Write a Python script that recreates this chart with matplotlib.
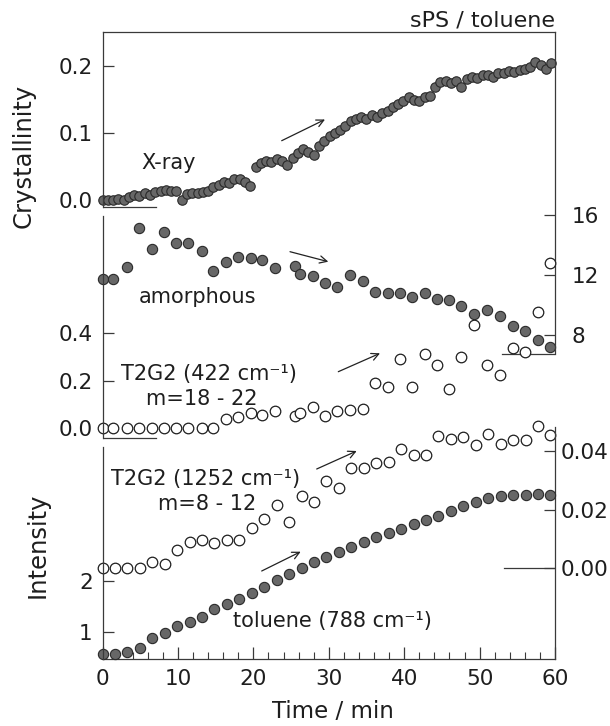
import matplotlib
matplotlib.use("Agg")
import matplotlib.pyplot as plt
from matplotlib.ticker import MultipleLocator, FixedLocator, FixedFormatter

plt.rcParams['font.family'] = ['DejaVu Sans']

# ---------------- data ----------------
xray_time = [0.0, 0.7, 1.4, 2.1, 2.8, 3.5, 4.2, 4.9, 5.6, 6.3, 7.0, 7.7, 8.4, 9.1, 9.8,
             10.5, 11.2, 11.9, 12.6, 13.3, 14.0, 14.7, 15.4, 16.1, 16.8, 17.5, 18.2, 18.9,
             19.6, 20.3, 21.0, 21.7, 22.4, 23.1, 23.8, 24.5, 25.2, 25.9, 26.6, 27.3, 28.0,
             28.7, 29.4, 30.1, 30.8, 31.5, 32.2, 32.9, 33.6, 34.3, 35.0, 35.7, 36.4, 37.1,
             37.8, 38.5, 39.2, 39.9, 40.6, 41.3, 42.0, 42.7, 43.4, 44.1, 44.8, 45.5, 46.2,
             46.9, 47.6, 48.3, 49.0, 49.7, 50.4, 51.1, 51.8, 52.5, 53.2, 53.9, 54.6, 55.3,
             56.0, 56.7, 57.4, 58.1, 58.8, 59.5]
xray_cryst = [0.000, 0.000, -0.001, 0.001, 0.000, 0.004, 0.006, 0.005, 0.009, 0.007, 0.011,
              0.012, 0.014, 0.013, 0.012, -0.001, 0.008, 0.010, 0.009, 0.011, 0.012, 0.018,
              0.022, 0.026, 0.024, 0.030, 0.031, 0.026, 0.020, 0.048, 0.054, 0.057, 0.056,
              0.060, 0.058, 0.051, 0.062, 0.070, 0.075, 0.071, 0.066, 0.080, 0.088, 0.095,
              0.100, 0.104, 0.110, 0.117, 0.120, 0.123, 0.121, 0.126, 0.123, 0.130, 0.133,
              0.138, 0.143, 0.147, 0.153, 0.149, 0.147, 0.153, 0.155, 0.168, 0.176, 0.178,
              0.174, 0.177, 0.168, 0.180, 0.183, 0.182, 0.186, 0.187, 0.184, 0.189, 0.190,
              0.192, 0.191, 0.194, 0.196, 0.199, 0.206, 0.201, 0.196, 0.204]

time_a = [0.0, 1.4, 3.2, 4.9, 6.5, 8.2, 9.8, 11.4, 13.2, 14.7, 16.4, 18.0, 19.7, 21.2,
          22.9, 25.5, 26.2, 27.9, 29.5, 31.1, 32.8, 34.5, 36.1, 37.8, 39.5, 41.0, 42.8,
          44.3, 45.9, 47.6, 49.2, 51.0, 52.7, 54.4, 56.0, 57.7, 59.4]
amorphous = [11.73, 11.73, 12.56, 15.16, 13.73, 14.84, 14.11, 14.11, 13.60, 12.27, 12.84,
             13.22, 13.16, 13.00, 12.44, 12.60, 12.04, 11.93, 11.44, 11.22, 12.00, 11.60,
             10.84, 10.78, 10.78, 10.56, 10.78, 10.40, 10.33, 9.96, 9.38, 9.67, 9.27, 8.60,
             8.29, 7.67, 7.22]
t2g2_422 = [0.0, 0.0, 0.0, 0.0, 0.0, 0.0, 0.0, 0.0, 0.0, 0.0, 0.038, 0.046, 0.063, 0.056,
            0.074, 0.052, 0.063, 0.091, 0.052, 0.074, 0.077, 0.081, 0.192, 0.173, 0.290,
            0.173, 0.313, 0.267, 0.164, 0.300, 0.436, 0.267, 0.224, 0.336, 0.319, 0.490,
            0.693]

time_b = [0.0, 1.65, 3.3, 4.95, 6.6, 8.25, 9.9, 11.55, 13.2, 14.85, 16.5, 18.15, 19.8,
          21.45, 23.1, 24.75, 26.4, 28.05, 29.7, 31.35, 33.0, 34.65, 36.3, 37.95, 39.6,
          41.25, 42.9, 44.55, 46.2, 47.85, 49.5, 51.15, 52.8, 54.45, 56.1, 57.75, 59.4]
t2g2_1252 = [0.000, 0.000, 0.000, 0.000, 0.0019, 0.0013, 0.0062, 0.0090, 0.0096, 0.0084,
             0.0096, 0.0096, 0.0136, 0.0168, 0.0215, 0.0158, 0.0247, 0.0227, 0.0297, 0.0275,
             0.0341, 0.0341, 0.0358, 0.0361, 0.0407, 0.0386, 0.0386, 0.0452, 0.0441, 0.0449,
             0.0420, 0.0459, 0.0423, 0.0438, 0.0436, 0.0487, 0.0453]
toluene = [0.571, 0.571, 0.623, 0.701, 0.883, 0.994, 1.123, 1.208, 1.305, 1.448, 1.552,
           1.643, 1.773, 1.890, 2.019, 2.136, 2.247, 2.377, 2.461, 2.571, 2.669, 2.766,
           2.864, 2.929, 3.006, 3.110, 3.188, 3.266, 3.370, 3.461, 3.545, 3.610, 3.656,
           3.675, 3.675, 3.695, 3.675]

cryst_ticks = [0.0, 0.1, 0.2]
cryst_labels = ["0.0", "0.1", "0.2"]
amor_ticks = [8, 12, 16]
amor_labels = ["8", "12", "16"]
t422_ticks = [0.0, 0.2, 0.4]
t422_labels = ["0.0", "0.2", "0.4"]
t1252_ticks = [0.00, 0.02, 0.04]
t1252_labels = ["0.00", "0.02", "0.04"]
tol_ticks = [1, 2]
tol_labels = ["1", "2"]
x_ticks = [0, 10, 20, 30, 40, 50, 60]

# ---------------- layout helpers (pixels from top-left) ----------------
W, H = 610, 726
L, R, T, B = 102.5, 555.0, 32.0, 659.0
FRAME = '#3a3a3a'
TXT = '#1e1e1e'


def fx(X):
    return X / W


def fy(Y):
    return 1 - Y / H


rect = [fx(L), fy(B), (R - L) / W, (B - T) / H]

fig = plt.figure(figsize=(W / 100, H / 100), dpi=100)
fig.patch.set_facecolor('white')

# main axes: top/bottom frame and time axis
ax = fig.add_axes(rect)
ax.set_xlim(0, 60)
ax.set_ylim(0, 1)
for s in ['left', 'right']:
    ax.spines[s].set_visible(False)
for s in ['top', 'bottom']:
    ax.spines[s].set_color(FRAME)
    ax.spines[s].set_linewidth(0.9)
ax.set_yticks([])
ax.xaxis.set_major_locator(FixedLocator(x_ticks))
ax.xaxis.set_minor_locator(MultipleLocator(2))
ax.tick_params(axis='x', which='major', direction='in', length=9, width=0.9,
               color=FRAME, labelsize=15.5, pad=7, labelcolor=TXT, top=False)
ax.tick_params(axis='x', which='minor', direction='in', length=5, width=0.8,
               color=FRAME, top=False)


def overlay(side, ref_val, ref_px, k, span, ticks, labels, pad):
    a = fig.add_axes(rect)
    a.set_xlim(0, 60)
    lo = ref_val - (B - ref_px) / k
    hi = ref_val + (ref_px - T) / k
    a.set_ylim(lo, hi)
    a.patch.set_visible(False)
    for s in a.spines.values():
        s.set_visible(False)
    sp = a.spines[side]
    sp.set_visible(True)
    sp.set_color(FRAME)
    sp.set_linewidth(0.9)
    sp.set_bounds(ref_val + (ref_px - span[1]) / k, ref_val + (ref_px - span[0]) / k)
    a.xaxis.set_visible(False)
    a.yaxis.set_ticks_position(side)
    a.yaxis.set_major_locator(FixedLocator(ticks))
    a.yaxis.set_major_formatter(FixedFormatter(labels))
    a.tick_params(axis='y', direction='in', length=8, width=0.9, color=FRAME,
                  labelsize=15.5, pad=pad, labelcolor=TXT)
    a.val = lambda px: ref_val + (ref_px - px) / k
    return a


filled = dict(marker='o', ls='none', mfc='#676767', mec='#2a2a2a', mew=0.8, clip_on=False)
hollow = dict(marker='o', ls='none', mfc='white', mec='#1e1e1e', mew=0.9, clip_on=False)

# crystallinity (left, top)
a_cr = overlay('left', 0.0, 199.5, 667.0, (T, 207), cryst_ticks, cryst_labels, 7)
a_cr.plot(xray_time, xray_cryst, ms=6.8, **filled)
a_cr.axhline(a_cr.val(207), xmin=0, xmax=7.1 / 60, color=FRAME, lw=0.9)

# amorphous (right)
a_am = overlay('right', 16.0, 215.0, 15.0, (T, 354), amor_ticks, amor_labels, 12)
a_am.plot(time_a, amorphous, ms=7.4, **filled)
a_am.axhline(a_am.val(354), xmin=53.0 / 60, xmax=1, color=FRAME, lw=0.9)

# T2G2 422 (left, middle)
a_422 = overlay('left', 0.0, 428.3, 238.0, (216, 437.5), t422_ticks, t422_labels, 7)
a_422.plot(time_a, t2g2_422, ms=7.6, **hollow)
a_422.axhline(a_422.val(437.5), xmin=0, xmax=7.1 / 60, color=FRAME, lw=0.9)

# T2G2 1252 (right, lower)
a_1252 = overlay('right', 0.0, 568.0, 2925.0, (427, B), t1252_ticks, t1252_labels, 4)
a_1252.plot(time_b, t2g2_1252, ms=7.6, **hollow)
a_1252.axhline(0.0, xmin=53.2 / 60, xmax=1, color=FRAME, lw=0.9)

# toluene (left, bottom)
a_tol = overlay('left', 1.0, 632.3, 51.3, (447, B), tol_ticks, tol_labels, 7)
a_tol.plot(time_b, toluene, ms=7.4, **filled)

# ---------------- texts ----------------
fig.text(fx(R), fy(20), 'sPS / toluene', ha='right', va='center', fontsize=16, color=TXT)
fig.text(fx(24), fy(156), 'Crystallinity', rotation=90, ha='center', va='center',
         fontsize=17.5, color=TXT)
fig.text(fx(38), fy(545), 'Intensity', rotation=90, ha='center', va='center',
         fontsize=17.5, color=TXT)
fig.text(fx(333), fy(712), 'Time / min', ha='center', va='center', fontsize=16.5, color=TXT)

ann = dict(ha='center', va='baseline', fontsize=15, color=TXT)
fig.text(fx(169), fy(169), 'X-ray', **ann)
fig.text(fx(197.5), fy(303), 'amorphous', **ann)
fig.text(fx(209), fy(380), 'T2G2 (422 cm\u207b\u00b9)', **ann)
fig.text(fx(202), fy(405), 'm=18 - 22', **ann)
fig.text(fx(206), fy(485), 'T2G2 (1252 cm\u207b\u00b9)', **ann)
fig.text(fx(207.5), fy(510), 'm=8 - 12', **ann)
fig.text(fx(332.5), fy(626.7), 'toluene (788 cm\u207b\u00b9)', **ann)

# arrows
arrows = [((281.7, 140.7), (325.0, 119.5)),
          ((290.0, 251.7), (328.3, 261.7)),
          ((338.3, 371.7), (380.0, 353.3)),
          ((316.7, 469.0), (356.7, 451.0)),
          ((261.7, 571.0), (300.7, 551.7))]
for (x0, y0), (x1, y1) in arrows:
    ax.annotate('', xy=(fx(x1), fy(y1)), xytext=(fx(x0), fy(y0)),
                xycoords='figure fraction', textcoords='figure fraction',
                arrowprops=dict(arrowstyle='->', lw=0.9, color='#222222',
                                mutation_scale=13, shrinkA=0, shrinkB=0))

fig.savefig('out.png', dpi=100, facecolor='white')
